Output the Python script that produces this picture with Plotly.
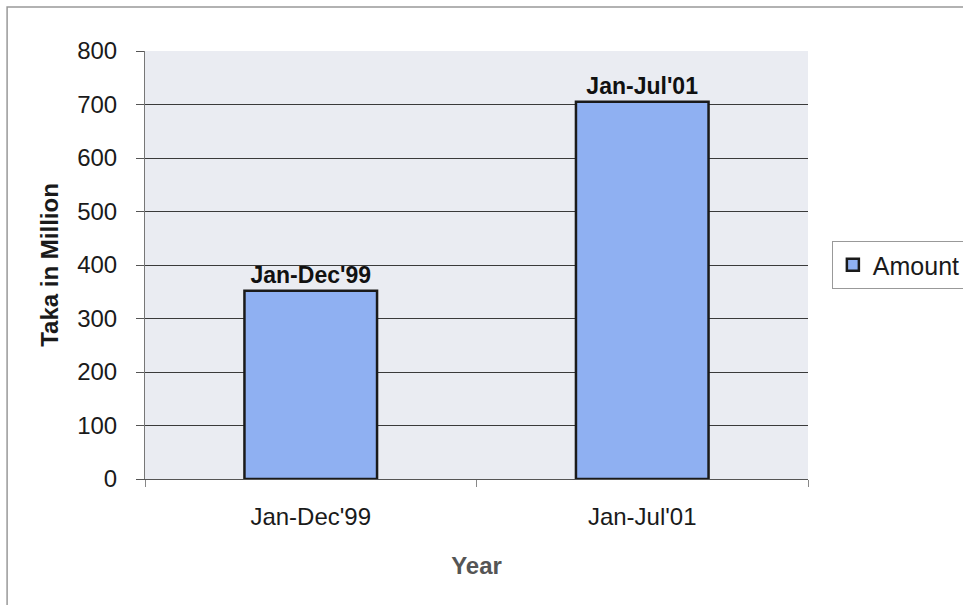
import plotly.graph_objects as go

categories = ["Jan-Dec'99", "Jan-Jul'01"]
amounts = [352, 705]
y_ticks = [0, 100, 200, 300, 400, 500, 600, 700, 800]

FONT = "Liberation Sans, Arial"

fig = go.Figure()
fig.add_trace(go.Bar(
    x=categories, y=amounts, name="Amount",
    marker=dict(color="#8fb0f2", line=dict(color="#1a1a1a", width=2.5)),
    width=0.4,
    text=categories, textposition="outside", cliponaxis=False,
    textfont=dict(family=FONT, size=23, color="#111"),
    texttemplate="<b>%{text}</b>",
    showlegend=True,
))

fig.update_layout(
    width=963, height=605,
    margin=dict(l=145, r=155, t=51, b=126, autoexpand=False),
    paper_bgcolor="white", plot_bgcolor="#eaecf2",
    font=dict(family=FONT, size=24, color="#1a1a1a"),
    showlegend=True,
    legend=dict(x=1.036, y=0.5, xanchor="left", yanchor="middle",
                bordercolor="#999", borderwidth=1, bgcolor="white",
                font=dict(size=25), itemwidth=30, tracegroupgap=0),
    xaxis=dict(
        showgrid=False, showline=True, linecolor="#555", linewidth=1,
        ticks="outside", tickson="boundaries", ticklen=7, tickcolor="#888",
        tickfont=dict(size=24), ticklabelstandoff=16,
        title=dict(text="<b>Year</b>", font=dict(size=24, color="#555"), standoff=28),
    ),
    yaxis=dict(
        range=[0, 800], tickvals=y_ticks, showgrid=True, gridcolor="#3a3a3a", gridwidth=1,
        showline=True, linecolor="#777", linewidth=1,
        ticks="outside", ticklen=8, tickcolor="#555",
        tickfont=dict(size=24), ticklabelstandoff=14,
        title=dict(text="<b>Taka in Million</b>", font=dict(size=24), standoff=11),
        zeroline=False,
    ),
)

fig.add_shape(type="rect", xref="paper", yref="paper",
              x0=-0.208, x1=1.3, y0=-0.4, y1=1.103,
              line=dict(color="#999", width=1.5), fillcolor="rgba(0,0,0,0)")

fig.write_html("out.html")
